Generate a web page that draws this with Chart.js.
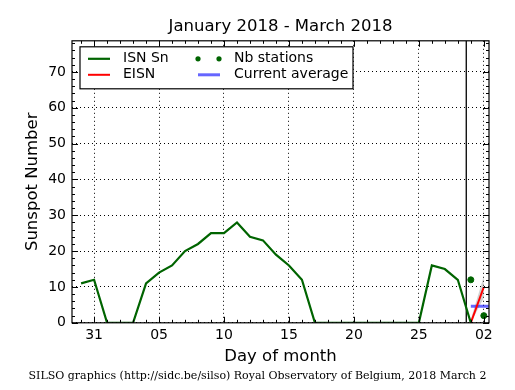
<!DOCTYPE html>
<html>
<head>
<meta charset="utf-8">
<title>Sunspot Number</title>
<script src="https://cdn.jsdelivr.net/npm/chart.js@4/dist/chart.umd.min.js"></script>
<style>
  html, body { margin: 0; padding: 0; background: #fff; }
  #wrap { width: 515px; height: 390px; }
</style>
</head>
<body>
<div id="wrap"><canvas id="sunspotChart"></canvas></div>
<script>
// day index: 0 = Jan 31, 1..28 = Feb 1..28, 29 = Mar 1, 30 = Mar 2
const days = [-1, 0, 1, 2, 3, 4, 5, 6, 7, 8, 9, 10, 11, 12, 13, 14, 15, 16,
  17, 18, 19, 20, 21, 22, 23, 24, 25, 26, 27, 28, 29];
const isnSn = [11, 12, 0, 0, 0, 11, 14, 16, 20, 22, 25, 25, 28, 24, 23, 19, 16, 12,
  0, 0, 0, 0, 0, 0, 0, 0, 0, 16, 15, 12, 0];

const eisnDays = [29, 30];
const eisn = [0, 10];
const eisnLow = [0, 7];
const eisnHigh = [1, 13];

const nbDays = [29, 30];
const nbStations = [12, 2];

const currentAverage = 4.6;
const currentAverageFrom = 29;
const monthBoundary = 28.65;

const xTickValues = [0, 5, 10, 15, 20, 25, 30];
const xTickLabels = ["31", "05", "10", "15", "20", "25", "02"];
const yTickValues = [0, 10, 20, 30, 40, 50, 60, 70];

const X_MIN = -1.7;
const X_MAX = 30.4;
const Y_MAX = 78.7;

const GREEN = "#006400";
const RED = "#ff0000";
const BLUE = "rgba(0, 0, 255, 0.6)";

const pts = (xs, ys) => xs.map((x, i) => ({ x: x, y: ys[i] }));

Chart.defaults.font.family = "'DejaVu Sans', sans-serif";
Chart.defaults.color = "#000";

// box, inward ticks (major + minor) on all four sides
const frameTicks = {
  id: "frameTicks",
  afterDatasetsDraw(chart) {
    const { ctx, chartArea: a, scales: { x, y } } = chart;
    ctx.save();
    ctx.strokeStyle = "#000";
    ctx.lineWidth = 1;
    ctx.beginPath();
    for (let d = Math.ceil(X_MIN); d <= X_MAX; d++) {
      const px = Math.round(x.getPixelForValue(d)) + 0.5;
      const len = d % 5 === 0 ? 6 : 3;
      ctx.moveTo(px, a.bottom);
      ctx.lineTo(px, a.bottom - len);
      ctx.moveTo(px, a.top);
      ctx.lineTo(px, a.top + len);
    }
    for (let v = 0; v <= Y_MAX; v += 2) {
      const py = Math.round(y.getPixelForValue(v)) + 0.5;
      const len = v % 10 === 0 ? 6 : 3;
      ctx.moveTo(a.left, py);
      ctx.lineTo(a.left + len, py);
      ctx.moveTo(a.right, py);
      ctx.lineTo(a.right - len, py);
    }
    ctx.stroke();
    ctx.lineWidth = 1.2;
    ctx.strokeRect(a.left, a.top, a.right - a.left, a.bottom - a.top);
    ctx.restore();
  },
};

// two-column framed legend, like the original
const boxLegend = {
  id: "boxLegend",
  afterDraw(chart) {
    const { ctx, chartArea: a } = chart;
    const left = a.left + 8;
    const top = a.top + 6;
    const row1 = top + 12;
    const row2 = top + 28;
    ctx.save();
    ctx.fillStyle = "#fff";
    ctx.fillRect(left, top, 273, 42);
    ctx.strokeStyle = "#000";
    ctx.lineWidth = 1.2;
    ctx.strokeRect(left, top, 273, 42);

    const line = (x0, y0, color, w) => {
      ctx.strokeStyle = color;
      ctx.lineWidth = w;
      ctx.beginPath();
      ctx.moveTo(x0, y0);
      ctx.lineTo(x0 + 22, y0);
      ctx.stroke();
    };
    line(left + 8, row1, GREEN, 2.2);
    line(left + 8, row2, RED, 2);
    line(left + 118, row2, BLUE, 3);

    ctx.fillStyle = GREEN;
    [left + 118, left + 139].forEach((cx) => {
      ctx.beginPath();
      ctx.arc(cx, row1, 2.6, 0, Math.PI * 2);
      ctx.fill();
    });

    ctx.fillStyle = "#000";
    ctx.font = "14px 'DejaVu Sans'";
    ctx.textBaseline = "middle";
    ctx.fillText("ISN Sn", left + 43, row1);
    ctx.fillText("EISN", left + 43, row2);
    ctx.fillText("Nb stations", left + 154, row1);
    ctx.fillText("Current average", left + 154, row2);
    ctx.restore();
  },
};

new Chart(document.getElementById("sunspotChart"), {
  type: "line",
  data: {
    datasets: [
      {
        label: "ISN Sn",
        data: pts(days, isnSn),
        borderColor: GREEN,
        borderWidth: 2.2,
        pointRadius: 0,
        tension: 0,
      },
      {
        label: "EISN",
        data: pts(eisnDays, eisn),
        borderColor: RED,
        borderWidth: 2,
        pointRadius: 0,
        tension: 0,
      },
      {
        label: "Nb stations",
        data: pts(nbDays, nbStations),
        showLine: false,
        pointRadius: 3,
        pointBackgroundColor: GREEN,
        pointBorderColor: GREEN,
        borderColor: GREEN,
      },
      {
        label: "Current average",
        data: [
          { x: currentAverageFrom, y: currentAverage },
          { x: X_MAX, y: currentAverage },
        ],
        borderColor: BLUE,
        borderWidth: 3,
        pointRadius: 0,
      },
      {
        label: "boundary",
        data: [
          { x: monthBoundary, y: 0 },
          { x: monthBoundary, y: Y_MAX },
        ],
        borderColor: "#000",
        borderWidth: 1.3,
        pointRadius: 0,
      },
      {
        label: "eisn low",
        data: pts(eisnDays, eisnLow),
        borderWidth: 0,
        pointRadius: 0,
        fill: false,
      },
      {
        label: "eisn high",
        data: pts(eisnDays, eisnHigh),
        borderWidth: 0,
        pointRadius: 0,
        fill: "-1",
        backgroundColor: "rgba(128, 128, 128, 0.35)",
      },
    ],
  },
  options: {
    responsive: true,
    maintainAspectRatio: false,
    animation: false,
    events: [],
    layout: { padding: { top: 10, right: 0, bottom: 3, left: 0 } },
    plugins: {
      legend: { display: false },
      tooltip: { enabled: false },
      title: {
        display: true,
        text: "January 2018 - March 2018",
        fullSize: false,
        font: { size: 16.5, weight: "normal" },
        color: "#000",
        padding: { top: 7, bottom: 4 },
      },
      subtitle: {
        display: true,
        position: "bottom",
        text: "SILSO graphics (http://sidc.be/silso) Royal Observatory of Belgium, 2018 March 2",
        font: { family: "'DejaVu Serif', serif", size: 11 },
        color: "#000",
        padding: { top: 3, bottom: 4 },
      },
    },
    scales: {
      x: {
        type: "linear",
        min: X_MIN,
        max: X_MAX,
        afterBuildTicks: (scale) => {
          scale.ticks = xTickValues.map((v) => ({ value: v }));
        },
        afterFit: (scale) => {
          scale.height = 44;
        },
        ticks: {
          font: { size: 14 },
          color: "#000",
          padding: 4,
          maxRotation: 0,
          autoSkip: false,
          callback: (val) => xTickLabels[xTickValues.indexOf(val)],
        },
        grid: { color: "#000", lineWidth: 1, drawTicks: false },
        border: { display: false, dash: [1, 3] },
        title: {
          display: true,
          text: "Day of month",
          font: { size: 16.5 },
          color: "#000",
          padding: { top: 0, bottom: 0 },
        },
      },
      y: {
        min: 0,
        max: Y_MAX,
        afterBuildTicks: (scale) => {
          scale.ticks = yTickValues.map((v) => ({ value: v }));
        },
        afterFit: (scale) => {
          scale.width = 72;
        },
        ticks: {
          font: { size: 14 },
          color: "#000",
          padding: 6,
        },
        grid: { color: "#000", lineWidth: 1, drawTicks: false },
        border: { display: false, dash: [1, 3] },
        title: {
          display: true,
          text: "Sunspot Number",
          font: { size: 16.5 },
          color: "#000",
          padding: { top: 23, bottom: 0 },
        },
      },
      // empty right-hand spacer so the footer stays centred on the page
      yRight: {
        position: "right",
        min: 0,
        max: Y_MAX,
        ticks: { display: false },
        grid: { display: false, drawTicks: false },
        border: { display: false },
        afterFit: (scale) => {
          scale.width = 26;
        },
      },
    },
  },
  plugins: [frameTicks, boxLegend],
});
</script>
</body>
</html>
